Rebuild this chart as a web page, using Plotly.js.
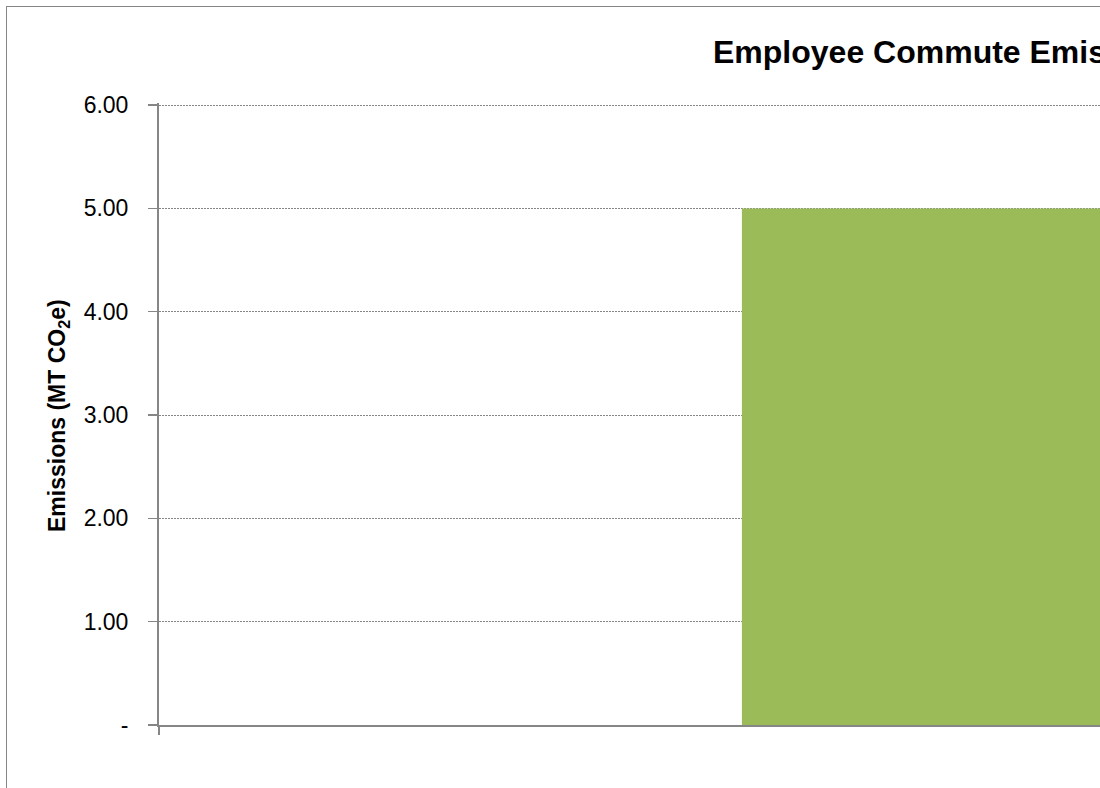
<!DOCTYPE html>
<html>
<head>
<meta charset="utf-8">
<script src="https://cdn.plot.ly/plotly-3.0.1.min.js"></script>
<style>
  html, body { margin: 0; padding: 0; overflow: hidden; background: #ffffff; width: 1100px; height: 788px; }
  #chart { position: absolute; left: 6px; top: 6px; width: 2125px; height: 800px; border: 1px solid #868686; }
</style>
</head>
<body>
<div id="chart"></div>
<script>
const categories = ["Total"];
const emissions = [5.0];
const yTickVals = [0, 1, 2, 3, 4, 5, 6];
const yTickText = ["-", "1.00", "2.00", "3.00", "4.00", "5.00", "6.00"];
const chartTitle = "Employee Commute Emissions";
const yTitle = "Emissions (MT CO<sub>2</sub>e)";

const W = 2125, H = 800;
const ml = 152, mt = 96, mb = 82, mr = 30;
const plotW = W - ml - mr;
const plotH = H - mt - mb;

const trace = {
  type: "bar",
  x: categories,
  y: emissions,
  width: 0.4,
  marker: { color: "#9BBB59", line: { width: 0 } },
  hoverinfo: "skip"
};

const layout = {
  width: W,
  height: H,
  margin: { l: ml, r: mr, t: mt, b: mb, pad: 0 },
  paper_bgcolor: "#ffffff",
  plot_bgcolor: "#ffffff",
  showlegend: false,
  font: { family: "Liberation Sans, Arial, sans-serif", color: "#000000" },
  title: {
    text: "<b>" + chartTitle + "</b>",
    font: { family: "Liberation Sans, Arial, sans-serif", size: 32, color: "#000000" },
    xref: "container", yref: "container",
    x: (713 - 7) / W, xanchor: "left",
    y: 1 - (52 - 7) / H, yanchor: "middle"
  },
  xaxis: {
    type: "category",
    range: [-0.5, 0.5],
    showticklabels: false,
    showgrid: false,
    zeroline: false,
    showline: true,
    linecolor: "#868686",
    linewidth: 2,
    ticks: "outside",
    tickson: "boundaries",
    ticklen: 8,
    tickwidth: 2,
    tickcolor: "#868686",
    fixedrange: true
  },
  yaxis: {
    range: [0, 6.02],
    tickvals: yTickVals,
    ticktext: yTickText,
    tickfont: { family: "Liberation Sans, Arial, sans-serif", size: 23, color: "#000000" },
    showgrid: true,
    gridcolor: "#868686",
    gridwidth: 1,
    griddash: "2px,1px",
    zeroline: false,
    showline: true,
    linecolor: "#868686",
    linewidth: 2,
    ticks: "outside",
    ticklen: 9,
    tickwidth: 1.5,
    tickcolor: "#868686",
    ticklabelstandoff: 15,
    fixedrange: true
  },
  annotations: [{
    text: "<b>" + yTitle + "</b>",
    textangle: -90,
    xref: "paper", yref: "paper",
    x: (58 - 7 - ml) / plotW, y: (718 - 409) / plotH,
    xanchor: "center", yanchor: "middle",
    showarrow: false,
    font: { family: "Liberation Sans, Arial, sans-serif", size: 23, color: "#000000" }
  }]
};

Plotly.newPlot("chart", [trace], layout, { displayModeBar: false, staticPlot: true });
</script>
</body>
</html>
